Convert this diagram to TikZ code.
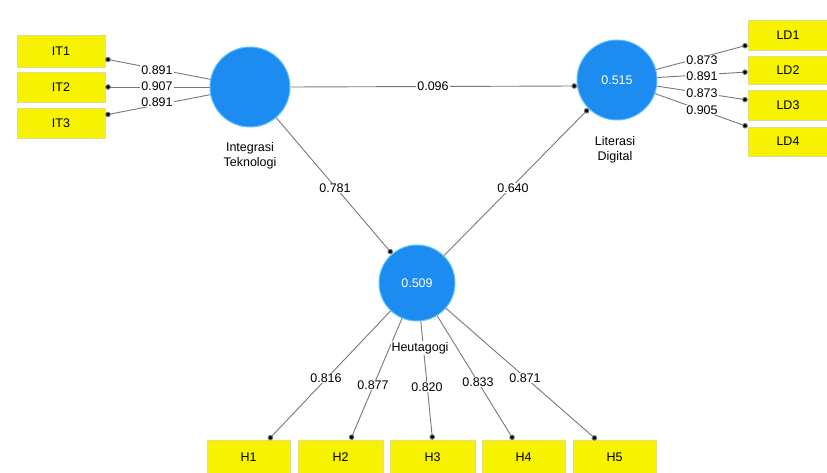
\documentclass[tikz,border=0pt]{standalone}
\usepackage{fontspec}
\setmainfont{Liberation Sans}
\usetikzlibrary{arrows.meta,calc}
\definecolor{lvblue}{RGB}{28,140,240}
\definecolor{lvedge}{RGB}{100,195,255}
\definecolor{mvyellow}{RGB}{246,242,0}
\definecolor{mvedge}{RGB}{225,220,140}
\definecolor{pathgray}{RGB}{120,120,120}
\begin{document}
\begin{tikzpicture}[x=1pt,y=-1pt,
  lv/.style={circle,fill=lvblue,draw=lvedge,line width=1pt,text=white,inner sep=0pt},
  mv/.style={rectangle,fill=mvyellow,draw=mvedge,line width=0.6pt,inner sep=0pt},
  link/.style={draw=pathgray,line width=0.9pt,-{Circle[length=5.5pt,fill=black]}},
  coef/.style={fill=white,inner sep=1pt},
  font=\fontsize{12.5}{15}\selectfont]
\useasboundingbox (0,0) rectangle (827,473);

% latent variables
\node[lv,minimum size=80pt] (IT) at (250,87) {};
\node[lv,minimum size=80pt] (LD) at (617,80) {0.515};
\node[lv,minimum size=76pt] (HE) at (417,283) {0.509};

% indicators
\node[mv,minimum width=88pt,minimum height=32pt] (IT1) at (61,51) {IT1};
\node[mv,minimum width=88pt,minimum height=30pt] (IT2) at (61,87) {IT2};
\node[mv,minimum width=88pt,minimum height=30pt] (IT3) at (61,123) {IT3};

\node[mv,minimum width=80pt,minimum height=30pt] (LD1) at (788,35) {LD1};
\node[mv,minimum width=80pt,minimum height=28pt] (LD2) at (788,70) {LD2};
\node[mv,minimum width=80pt,minimum height=30pt] (LD3) at (788,105) {LD3};
\node[mv,minimum width=80pt,minimum height=29pt] (LD4) at (788,141.5) {LD4};

\node[mv,minimum width=83pt,minimum height=34pt] (H1) at (248.5,457) {H1};
\node[mv,minimum width=85pt,minimum height=34pt] (H2) at (340.5,457) {H2};
\node[mv,minimum width=85pt,minimum height=34pt] (H3) at (432.5,457) {H3};
\node[mv,minimum width=83pt,minimum height=34pt] (H4) at (523.5,457) {H4};
\node[mv,minimum width=83pt,minimum height=34pt] (H5) at (614.5,457) {H5};

% connectors
\draw[link] (IT) -- ($(IT1.east)+(0,8)$);
\draw[link] (IT) -- (IT2.east);
\draw[link] (IT) -- ($(IT3.east)+(0,-8)$);

\draw[link] (IT.east) -- ($(LD.west)+(0.5,6)$);
\draw[link] (IT) -- (HE);
\draw[link] (HE) -- (LD);

\draw[link] (LD) -- ($(LD1.west)+(0,10)$);
\draw[link] (LD) -- ($(LD2.west)+(0,2)$);
\draw[link] (LD) -- ($(LD3.west)+(0,-5)$);
\draw[link] (LD) -- (LD4.north west);

\draw[link] (HE) -- ($(H1.north)+(20,0)$);
\draw[link] (HE) -- ($(H2.north)+(10,0)$);
\draw[link] (HE) -- (H3.north);
\draw[link] (HE) -- ($(H4.north)+(-10,0)$);
\draw[link] (HE) -- ($(H5.north)+(-18,0)$);

% coefficients
\node[coef] (c1) at (157,70) {0.891};
\node[coef] (c2) at (157,86) {0.907};
\node[coef] (c3) at (157,102) {0.891};
\node[coef] (c4) at (433,86) {0.096};
\node[coef] (c5) at (702,60) {0.873};
\node[coef] (c6) at (702,76) {0.891};
\node[coef] (c7) at (702,93) {0.873};
\node[coef] (c8) at (702,110) {0.905};
\node[coef] (c9) at (335,188) {0.781};
\node[coef] (c10) at (513,188) {0.640};
\node[coef] (c11) at (326,378) {0.816};
\node[coef] (c12) at (373,385) {0.877};
\node[coef] (c13) at (427,387) {0.820};
\node[coef] (c14) at (478,382) {0.833};
\node[coef] (c15) at (525,378) {0.871};

% construct names
\node[align=center] (ITname) at (250,156) {Integrasi\\Teknologi};
\node[align=center] (LDname) at (615,150) {Literasi\\Digital};
\node[coef] (HEname) at (420,348) {Heutagogi};
\end{tikzpicture}
\end{document}
